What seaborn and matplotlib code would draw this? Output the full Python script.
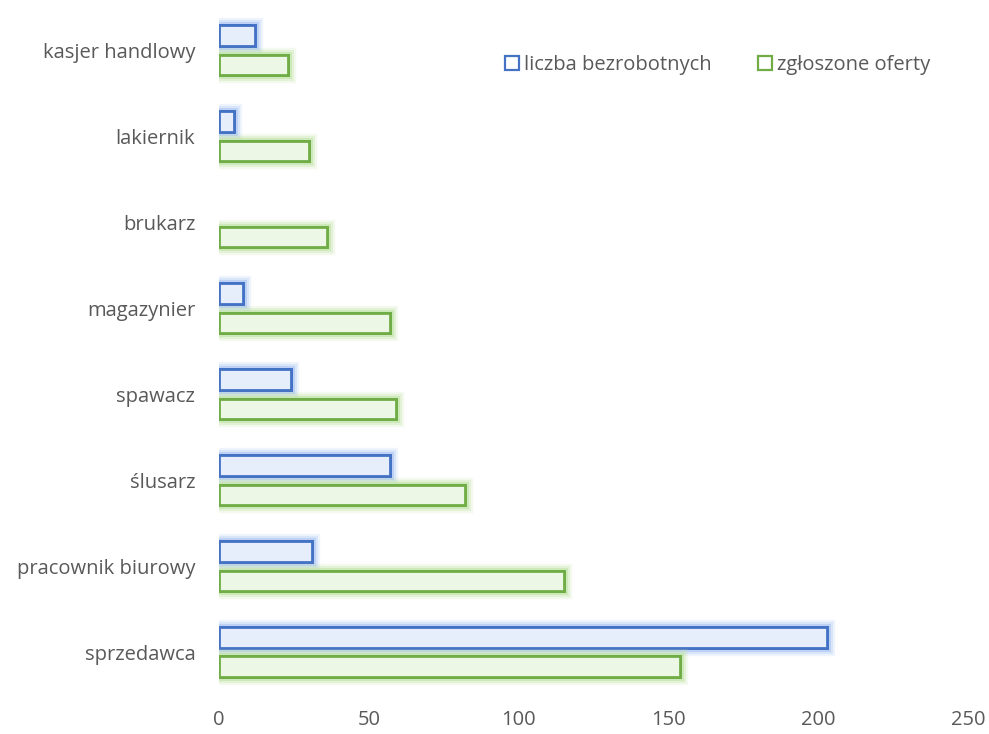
import pandas as pd
import matplotlib
matplotlib.use("Agg")
import matplotlib.pyplot as plt
import matplotlib.patheffects as pe
from matplotlib.patches import Patch
import seaborn as sns

# ---- data ----
zawody = ["kasjer handlowy", "lakiernik", "brukarz", "magazynier",
          "spawacz", "ślusarz", "pracownik biurowy", "sprzedawca"]
bezrobotni = [12, 5, 0, 8, 24, 57, 31, 203]
oferty = [23, 30, 36, 57, 59, 82, 115, 154]
serie = ["liczba bezrobotnych", "zgłoszone oferty"]

df = pd.DataFrame({
    "zawod": zawody * 2,
    "wartosc": bezrobotni + oferty,
    "seria": [serie[0]] * len(zawody) + [serie[1]] * len(zawody),
})

edge_cols = {"liczba bezrobotnych": "#4472C4", "zgłoszone oferty": "#70AD47"}
fill_cols = {"liczba bezrobotnych": "#E6EEFC", "zgłoszone oferty": "#EDF7E6"}
glow_cols = {"liczba bezrobotnych": "#A9C4F2", "zgłoszone oferty": "#BFE3A5"}
text_col = "#595959"

sns.set_style("white")
plt.rcParams["font.family"] = ["Open Sans", "DejaVu Sans"]

fig = plt.figure(figsize=(9.89, 7.34), dpi=100)
ax = fig.add_axes([0.2214, 0.053, 0.7574, 0.937])

sns.barplot(data=df, x="wartosc", y="zawod", hue="seria", hue_order=serie,
            order=zawody, palette=edge_cols, orient="h", width=0.68, gap=0.3,
            fill=False, linewidth=2.0, legend=False, ax=ax)

# glow around the outlined bars
for seria, cont in zip(serie, ax.containers):
    for bar in cont:
        if bar.get_width() <= 0:
            bar.set_visible(False)
            continue
        bar.set_facecolor(fill_cols[seria])
        bar.set_edgecolor(edge_cols[seria])
        bar.set_path_effects([
            pe.withStroke(linewidth=11, foreground=glow_cols[seria], alpha=0.18),
            pe.withStroke(linewidth=8, foreground=glow_cols[seria], alpha=0.3),
            pe.withStroke(linewidth=5, foreground=glow_cols[seria], alpha=0.6),
            pe.Normal(),
        ])

ax.set_xlim(0, 250)
ax.set_xticks([0, 50, 100, 150, 200, 250])
ax.set_xlabel("")
ax.set_ylabel("")
ax.tick_params(axis="both", length=0, labelsize=14.5, colors=text_col)
ax.tick_params(axis="y", pad=17)
ax.tick_params(axis="x", pad=11)
for s in ax.spines.values():
    s.set_visible(False)

handles = [Patch(facecolor="none", edgecolor=edge_cols[s], linewidth=1.6, label=s) for s in serie]
leg = ax.legend(handles=handles, loc="center left", bbox_to_anchor=(0.357, 0.916), ncol=2,
                frameon=False, fontsize=14.5, handlelength=0.7, handleheight=0.7,
                handletextpad=0.25, columnspacing=2.3)
for t in leg.get_texts():
    t.set_color(text_col)

plt.savefig("out.png", dpi=100)
